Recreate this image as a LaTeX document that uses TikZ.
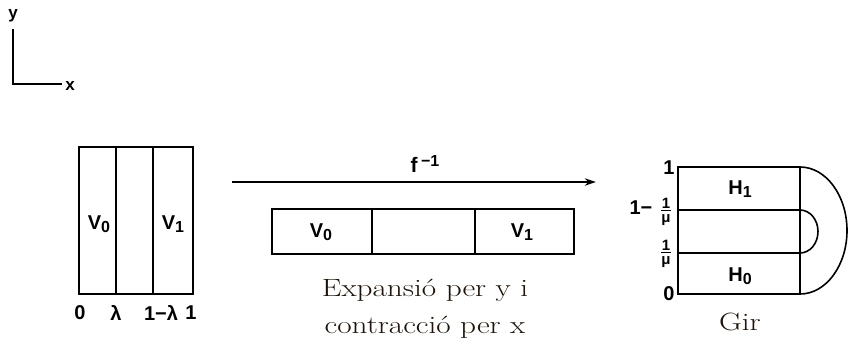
\documentclass[tikz,border=0pt]{standalone}
\usepackage{fontspec}
\usepackage{xcolor}
\usepackage{graphicx}
\usetikzlibrary{arrows.meta}
\newfontfamily\lblfont{Liberation Sans}
\newcommand{\lowidx}[1]{\raisebox{-0.3ex}{\fontsize{16}{16}\selectfont #1}}
\newcommand{\wide}[1]{\scalebox{1.25}[1]{#1}}

\begin{document}
\begin{tikzpicture}[x=1pt, y=-1pt,
  frame/.style={line width=1.6pt},
  lbl/.style={font=\lblfont\bfseries\fontsize{20}{22}\selectfont, inner sep=0pt},
  axl/.style={font=\lblfont\bfseries\fontsize{17}{18}\selectfont, inner sep=0pt},
  small/.style={font=\lblfont\bfseries\fontsize{15}{16}\selectfont, inner sep=0pt},
  captxt/.style={font=\fontsize{25}{37}\selectfont, align=center, text=black!85!brown, inner sep=0pt},
  arr/.style={-{Stealth[length=4mm, width=2.6mm]}, line width=1.3pt}
]
\useasboundingbox (0,0) rectangle (849,349);
% axes
\coordinate (origin) at (13,84);
\coordinate (ytip) at (13,29);
\coordinate (xtip) at (62,84);
\draw[frame] (ytip) -- (origin) -- (xtip);
\node[axl] (ylab) at (13,16) {y};
\node[axl] (xlab) at (70,86) {x};

% original square
\draw[frame] (79,147) rectangle (193,294);
\draw[frame] (116,147) -- (116,294);
\draw[frame] (153,147) -- (153,294);
\node[lbl] (v0a) at (99,224) {V\lowidx{0}};
\node[lbl] (v1a) at (173,224) {V\lowidx{1}};
\node[lbl] (t0) at (80,313) {0};
\node[lbl] (tl) at (116,313) {λ};
\node[lbl] (tml) at (161,313) {1−λ};
\node[lbl] (t1) at (191,313) {1};

% map
\coordinate (mapL) at (232,182);
\coordinate (mapR) at (596,182);
\draw[arr] (mapL) -- (mapR);
\node[lbl, font=\lblfont\bfseries\fontsize{21}{22}\selectfont] (finv) at (425,164)
  {f\,\raisebox{0.55ex}{\fontsize{16}{16}\selectfont −1}};

% stretched strip
\draw[frame] (272,209) rectangle (574,254);
\draw[frame] (372,209) -- (372,254);
\draw[frame] (475,209) -- (475,254);
\node[lbl] (v0b) at (321,232) {V\lowidx{0}};
\node[lbl] (v1b) at (522,232) {V\lowidx{1}};
\node[captxt] (stretch) at (425,309) {\wide{Expansió per y i}\\\wide{contracció per x}};

% fold
\draw[frame] (678,167) rectangle (800,294);
\draw[frame] (678,210) -- (800,210);
\draw[frame] (678,253) -- (800,253);
\draw[frame] (800,167) arc[start angle=90, end angle=-90, x radius=47pt, y radius=63.5pt];
\draw[frame] (800,210) arc[start angle=90, end angle=-90, x radius=18pt, y radius=21.5pt];
\node[lbl] (h1) at (740,189) {H\lowidx{1}};
\node[lbl] (h0) at (740,276) {H\lowidx{0}};
\node[lbl] (s1) at (669,168) {1};
\node[lbl] (sm) at (641,208) {1−};
\node[small] (num1) at (666,203) {1};
\node[small] (den1) at (666,220) {μ};
\draw[line width=0.9pt] ([xshift=-5pt]num1.south |- 0,210.5) -- ([xshift=5pt]num1.south |- 0,210.5);
\node[small] (num0) at (666,245) {1};
\node[small] (den0) at (666,262) {μ};
\draw[line width=0.9pt] ([xshift=-5pt]num0.south |- 0,252.5) -- ([xshift=5pt]num0.south |- 0,252.5);
\node[lbl] (s0) at (669,294) {0};
\node[captxt] (gir) at (740,322) {\wide{Gir}};
\end{tikzpicture}
\end{document}
